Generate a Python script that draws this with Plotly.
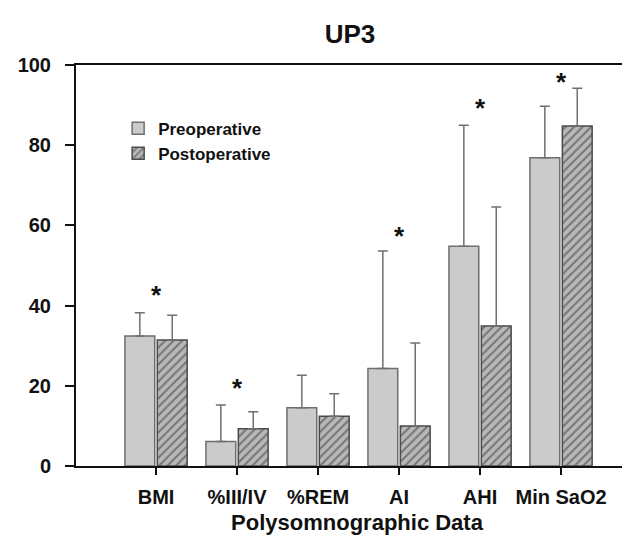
import plotly.graph_objects as go

categories = ["BMI", "%III/IV", "%REM", "AI", "AHI", "Min SaO2"]
pre_mean = [32.4, 6.1, 14.5, 24.3, 54.8, 76.9]
pre_upper = [38.2, 15.2, 22.6, 53.6, 85.0, 89.7]
post_mean = [31.4, 9.3, 12.4, 10.0, 34.9, 84.8]
post_upper = [37.6, 13.5, 18.0, 30.7, 64.6, 94.2]
star_cats = ["BMI", "%III/IV", "AI", "AHI", "Min SaO2"]
star_y = [44.0, 20.8, 58.6, 90.5, 97.0]
y_ticks = [0, 20, 40, 60, 80, 100]

FONT = "Liberation Sans"

pre_err = [u - m for u, m in zip(pre_upper, pre_mean)]
post_err = [u - m for u, m in zip(post_upper, post_mean)]

fig = go.Figure()
fig.add_trace(go.Bar(
    x=categories, y=pre_mean, name="Preoperative",
    marker=dict(color="#cbcbcb", line=dict(color="#6e6e6e", width=1.5)),
    error_y=dict(type="data", symmetric=False, array=pre_err,
                 arrayminus=[0] * len(pre_err), color="#707070",
                 thickness=1.5, width=5),
))
fig.add_trace(go.Bar(
    x=categories, y=post_mean, name="Postoperative",
    marker=dict(color="#a9a9a9", line=dict(color="#4a4a4a", width=1.5),
                pattern=dict(shape="/", fgcolor="#333333", bgcolor="#b8b8b8",
                             size=6, solidity=0.35)),
    error_y=dict(type="data", symmetric=False, array=post_err,
                 arrayminus=[0] * len(post_err), color="#707070",
                 thickness=1.5, width=5),
))

for c, yv in zip(star_cats, star_y):
    fig.add_annotation(x=c, y=yv, text="*", showarrow=False,
                       font=dict(family=FONT, size=26, color="#111", weight="bold"),
                       yanchor="middle", yshift=-5)

fig.update_layout(
    width=630, height=542,
    margin=dict(l=68, r=0, t=57, b=84),
    paper_bgcolor="white", plot_bgcolor="white",
    barmode="group", bargap=0.2, bargroupgap=0.08,
    font=dict(family=FONT, color="#111"),
    title=dict(text="UP3", x=(342 / 630), xanchor="center",
               y=1 - 26 / 542, yanchor="middle", yref="container",
               font=dict(family=FONT, size=26, weight="bold", color="#111")),
    showlegend=True,
    legend=dict(x=0.075, y=0.886, xanchor="left", yanchor="top",
                bgcolor="rgba(0,0,0,0)", tracegroupgap=0,
                font=dict(family=FONT, size=17, weight="bold", color="#111")),
    xaxis=dict(
        range=[-0.988, 5.95], showline=True, linecolor="#111", linewidth=2,
        mirror=True, ticks="outside", ticklen=7, tickwidth=2, tickcolor="#111",
        showgrid=False, zeroline=False,
        tickfont=dict(family=FONT, size=20, weight="bold", color="#111"),
        ticklabelstandoff=5,
        title=dict(text="Polysomnographic Data", standoff=8,
                   font=dict(family=FONT, size=22, weight="bold", color="#111")),
    ),
    yaxis=dict(
        range=[0, 100], tickvals=y_ticks, showline=True, linecolor="#111",
        linewidth=2, ticks="outside", ticklen=9, tickwidth=2, tickcolor="#111",
        showgrid=False, zeroline=False,
        tickfont=dict(family=FONT, size=20, weight="bold", color="#111"),
        ticklabelstandoff=10,
    ),
)

fig.write_html("out.html")
